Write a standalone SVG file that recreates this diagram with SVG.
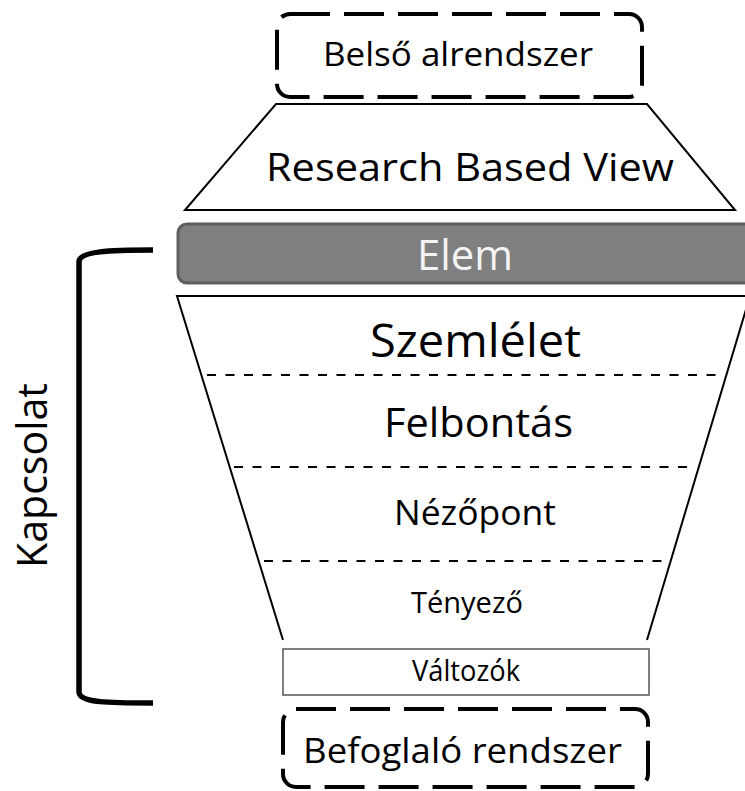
<svg xmlns="http://www.w3.org/2000/svg" width="745" height="791" viewBox="0 0 745 791">
<style>
text{font-family:"Open Sans","Noto Sans","Liberation Sans",sans-serif;fill:#000;text-anchor:middle}
.dbox{fill:none;stroke:#000;stroke-width:4;stroke-dasharray:40 14}
.edge{fill:none;stroke:#000;stroke-width:2}
.sep{fill:none;stroke:#000;stroke-width:2;stroke-dasharray:9 9.5}
</style>
<rect width="745" height="791" fill="#fff"/>
<g id="belso">
<rect class="dbox" x="277" y="14" width="365" height="83" rx="13"/>
<text x="458" y="66" font-size="32" textLength="270" lengthAdjust="spacingAndGlyphs">Belső alrendszer</text>
</g>
<g id="rbv">
<polygon class="edge" points="276,104 647,104 735,210 185,210" fill="#fff"/>
<text x="470" y="181" font-size="39" textLength="408" lengthAdjust="spacingAndGlyphs">Research Based View</text>
</g>
<g id="elem">
<rect x="178" y="224" width="575" height="59" rx="9" fill="#7f7f7f" stroke="#5e5e5e" stroke-width="3"/>
<text x="465" y="270" font-size="42" textLength="96" lengthAdjust="spacingAndGlyphs" style="fill:#f4f4f4">Elem</text>
</g>
<g id="tolcser">
<path class="edge" d="M283,640 L177,296 L750,296 L647,640"/>
<line class="sep" x1="207" y1="375" x2="720" y2="375"/>
<line class="sep" x1="234" y1="467" x2="694" y2="467"/>
<line class="sep" x1="264" y1="561" x2="666" y2="561"/>
</g>
<g id="szemlelet"><text x="475.5" y="357" font-size="45" textLength="211" lengthAdjust="spacingAndGlyphs">Szemlélet</text></g>
<g id="felbontas"><text x="478.5" y="437" font-size="41" textLength="189" lengthAdjust="spacingAndGlyphs">Felbontás</text></g>
<g id="nezopont"><text x="475" y="525" font-size="35" textLength="162" lengthAdjust="spacingAndGlyphs">Nézőpont</text></g>
<g id="tenyezo"><text x="467" y="613" font-size="29" textLength="112" lengthAdjust="spacingAndGlyphs">Tényező</text></g>
<g id="valtozok">
<rect x="283" y="649" width="366" height="46" fill="#fff" stroke="#555" stroke-width="1.5"/>
<text x="466" y="681" font-size="29" textLength="108" lengthAdjust="spacingAndGlyphs">Változók</text>
</g>
<g id="befoglalo">
<rect class="dbox" x="283" y="709" width="365" height="78" rx="13"/>
<text x="462.5" y="763" font-size="35" textLength="319" lengthAdjust="spacingAndGlyphs">Befoglaló rendszer</text>
</g>
<g id="connectors">
<path d="M153,250 C110,250 79,251 79,262 L79,692 C79,703 110,703 153,703" fill="none" stroke="#000" stroke-width="5.5"/>
</g>
<g id="kapcsolat">
<text transform="translate(47,475.5) rotate(-90)" x="0" y="0" font-size="42" textLength="185" lengthAdjust="spacingAndGlyphs">Kapcsolat</text>
</g>
</svg>
